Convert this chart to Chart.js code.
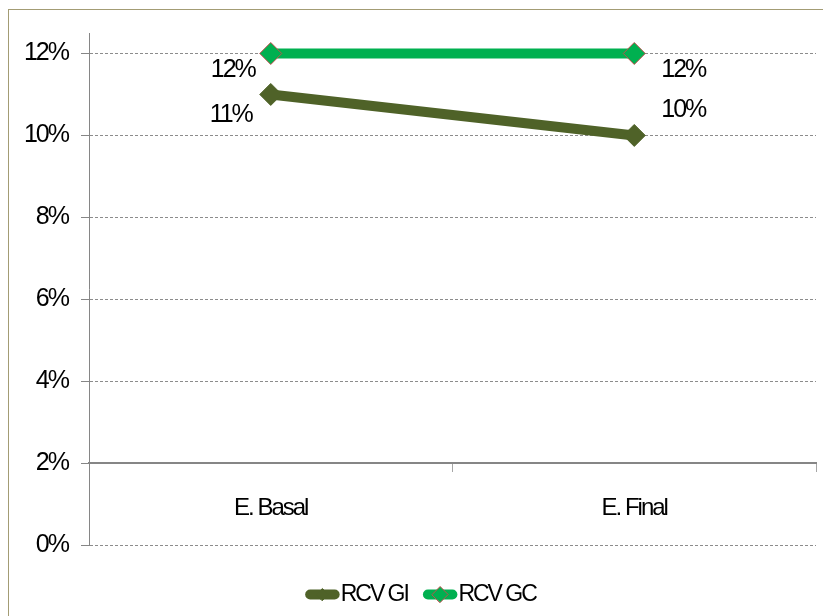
<!DOCTYPE html>
<html>
<head>
<meta charset="utf-8">
<script src="https://cdn.jsdelivr.net/npm/chart.js@4/dist/chart.umd.min.js"></script>
<style>
  html, body { margin: 0; padding: 0; background: #fff; }
  #wrap { position: relative; width: 823px; height: 616px; overflow: hidden; }
  #frame { position: absolute; left: 8px; top: 9px; width: 900px; height: 700px;
           border-left: 1px solid #A39C74; border-top: 1px solid #A39C74; }
  #c { position: absolute; left: 0; top: 0; }
</style>
</head>
<body>
<div id="wrap">
  <div id="frame"></div>
  <canvas id="c" width="823" height="616"></canvas>
</div>
<script>
// Stages and percentage values for each group
const categories = ['E. Basal', 'E. Final'];
const rcvGI = [11, 10];
const rcvGC = [12, 12];
const yTickValues = [0, 2, 4, 6, 8, 10, 12];

const FONT = "'Liberation Sans Narrow', 'Arial Narrow', 'Liberation Sans', Arial, sans-serif";
const GI_COLOR = '#4F6228';
const GC_COLOR = '#00B050';
const GC_EDGE = '#C0504D';
const AXIS_GRAY = '#868686';
const TIGHT = '-2px';

// Tighter letter spacing for all canvas text (condensed look)
const tightText = {
  id: 'tightText',
  beforeUpdate(chart) { chart.ctx.letterSpacing = TIGHT; },
  beforeDraw(chart) { chart.ctx.letterSpacing = TIGHT; }
};

// Value labels beside each point (offsets in px from the point)
const valueLabels = {
  id: 'valueLabels',
  afterDatasetsDraw(chart, args, opts) {
    const ctx = chart.ctx;
    ctx.save();
    ctx.letterSpacing = TIGHT;
    ctx.font = opts.font;
    ctx.fillStyle = '#000';
    ctx.textAlign = 'center';
    ctx.textBaseline = 'middle';
    chart.data.datasets.forEach((ds, di) => {
      const meta = chart.getDatasetMeta(di);
      meta.data.forEach((pt, i) => {
        const off = opts.offsets[di][i];
        ctx.fillText(ds.data[i] + '%', pt.x + off[0], pt.y + off[1]);
      });
    });
    ctx.restore();
  }
};

// Legend swatches: a thick rounded line with the series marker in the middle
const legendSwatches = {
  id: 'legendSwatches',
  afterDraw(chart) {
    const lg = chart.legend;
    if (!lg || !lg.legendHitBoxes) return;
    const ctx = chart.ctx;
    const boxW = lg.options.labels.boxWidth;
    const fs = lg.options.labels.font.size;
    lg.legendHitBoxes.forEach((hb, i) => {
      const ds = chart.data.datasets[i];
      const cy = hb.top + hb.height / 2;
      const x1 = hb.left + 5;
      const x2 = hb.left + boxW + fs / 2 - 6;
      ctx.save();
      ctx.strokeStyle = ds.borderColor;
      ctx.lineWidth = 10;
      ctx.lineCap = 'round';
      ctx.beginPath();
      ctx.moveTo(x1, cy);
      ctx.lineTo(x2, cy);
      ctx.stroke();
      const mx = (x1 + x2) / 2;
      const r = ds.legendMarkerRadius;
      ctx.beginPath();
      ctx.moveTo(mx - r, cy);
      ctx.lineTo(mx, cy - r);
      ctx.lineTo(mx + r, cy);
      ctx.lineTo(mx, cy + r);
      ctx.closePath();
      ctx.fillStyle = ds.pointBackgroundColor;
      ctx.fill();
      ctx.lineWidth = 1;
      ctx.strokeStyle = ds.pointBorderColor;
      ctx.stroke();
      ctx.restore();
    });
  }
};

new Chart(document.getElementById('c'), {
  type: 'line',
  data: {
    labels: categories,
    datasets: [
      {
        label: 'RCV GI',
        data: rcvGI,
        borderColor: GI_COLOR,
        backgroundColor: GI_COLOR,
        borderWidth: 10,
        pointStyle: 'rectRot',
        pointRadius: 11,
        pointHoverRadius: 11,
        pointBackgroundColor: GI_COLOR,
        pointBorderColor: GI_COLOR,
        pointBorderWidth: 1,
        legendMarkerRadius: 6,
        tension: 0
      },
      {
        label: 'RCV GC',
        data: rcvGC,
        borderColor: GC_COLOR,
        backgroundColor: GC_COLOR,
        borderWidth: 10,
        pointStyle: 'rectRot',
        pointRadius: 11,
        pointHoverRadius: 11,
        pointBackgroundColor: GC_COLOR,
        pointBorderColor: GC_EDGE,
        pointBorderWidth: 1,
        legendMarkerRadius: 8,
        tension: 0
      }
    ]
  },
  options: {
    responsive: false,
    animation: false,
    events: [],
    layout: { autoPadding: false, padding: { top: 33, right: 7, bottom: 0, left: 25 } },
    scales: {
      x: {
        type: 'category',
        position: { y: 2 },
        offset: true,
        afterFit(axis) { axis.paddingLeft = 0; axis.paddingRight = 0; },
        grid: {
          offset: true,
          drawOnChartArea: false,
          drawTicks: true,
          tickLength: 8,
          tickColor: '#A6A6A6',
          tickWidth: 1
        },
        border: { display: true, color: AXIS_GRAY, width: 2 },
        ticks: {
          color: '#000',
          padding: 23,
          font: { family: FONT, size: 24 }
        }
      },
      y: {
        min: 0,
        max: 12.5,
        afterBuildTicks(axis) {
          axis.ticks = yTickValues.map(v => ({ value: v }));
        },
        afterFit(axis) { axis.width = 64; },
        grid: {
          color: '#8C8C8C',
          lineWidth: 1,
          drawTicks: true,
          tickLength: 8,
          tickColor: AXIS_GRAY,
          tickBorderDash: []
        },
        border: { display: true, color: AXIS_GRAY, width: 1, dash: [3, 2] },
        ticks: {
          color: '#000',
          padding: 13,
          font: { family: FONT, size: 25 },
          callback: v => v + '%'
        }
      }
    },
    plugins: {
      tooltip: { enabled: false },
      legend: {
        display: true,
        position: 'bottom',
        title: { display: true, text: '', font: { size: 4 }, padding: { top: 18, bottom: 0 } },
        labels: {
          boxWidth: 24,
          boxHeight: 10,
          padding: 15,
          color: '#000',
          font: { family: FONT, size: 23 },
          generateLabels(chart) {
            return chart.data.datasets.map((ds, i) => ({
              text: ds.label,
              fillStyle: 'rgba(0,0,0,0)',
              strokeStyle: 'rgba(0,0,0,0)',
              lineWidth: 0,
              hidden: false,
              datasetIndex: i,
              fontColor: '#000'
            }));
          }
        }
      },
      valueLabels: {
        font: "25px " + FONT,
        offsets: [
          [[-40, 21], [49, -25]],
          [[-38, 17], [49, 17]]
        ]
      }
    }
  },
  plugins: [tightText, valueLabels, legendSwatches]
});
</script>
</body>
</html>
